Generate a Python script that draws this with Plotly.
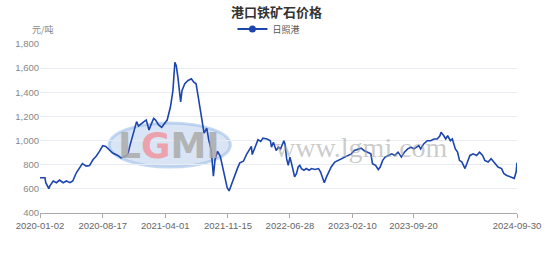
import plotly.graph_objects as go

# ---- data ----
dates = [
    "2020-01-02", "2020-01-20", "2020-01-23", "2020-02-03", "2020-02-07", "2020-02-19",
    "2020-03-02", "2020-03-13", "2020-03-26", "2020-04-07", "2020-04-20", "2020-04-30",
    "2020-05-13", "2020-05-25", "2020-06-04", "2020-06-18", "2020-06-30", "2020-07-13",
    "2020-07-24", "2020-08-05", "2020-08-17", "2020-08-28", "2020-09-10", "2020-09-22",
    "2020-10-12", "2020-10-22", "2020-11-03", "2020-11-16", "2020-11-23", "2020-12-03",
    "2020-12-09", "2020-12-18", "2020-12-25", "2021-01-04", "2021-01-14", "2021-01-22",
    "2021-02-01", "2021-02-08", "2021-02-18", "2021-02-25", "2021-03-08", "2021-03-19",
    "2021-03-26", "2021-04-08", "2021-04-20", "2021-04-29", "2021-05-06", "2021-05-11",
    "2021-05-17", "2021-05-21", "2021-05-27", "2021-06-01", "2021-06-11", "2021-06-23",
    "2021-07-05", "2021-07-13", "2021-07-22", "2021-07-29", "2021-08-06", "2021-08-12",
    "2021-08-20", "2021-08-30", "2021-09-06", "2021-09-15", "2021-09-23", "2021-09-29",
    "2021-10-08", "2021-10-18", "2021-10-26", "2021-11-04", "2021-11-12", "2021-11-19",
    "2021-11-29", "2021-12-10", "2021-12-20", "2021-12-28", "2022-01-10", "2022-01-21",
    "2022-02-08", "2022-02-11", "2022-02-21", "2022-03-04", "2022-03-14", "2022-03-22",
    "2022-04-06", "2022-04-18", "2022-04-22", "2022-04-29", "2022-05-09", "2022-05-17",
    "2022-05-25", "2022-06-06", "2022-06-10", "2022-06-16", "2022-06-22", "2022-06-28",
    "2022-07-04", "2022-07-11", "2022-07-15", "2022-07-22", "2022-07-28", "2022-08-03",
    "2022-08-09", "2022-08-18", "2022-08-26", "2022-09-06", "2022-09-14", "2022-09-27",
    "2022-10-10", "2022-10-17", "2022-10-24", "2022-10-31", "2022-11-08", "2022-11-17",
    "2022-11-25", "2022-12-08", "2022-12-20", "2023-01-03", "2023-01-13", "2023-01-30",
    "2023-02-06", "2023-02-17", "2023-03-02", "2023-03-14", "2023-03-24", "2023-04-06",
    "2023-04-18", "2023-04-24", "2023-05-05", "2023-05-15", "2023-05-22", "2023-05-31",
    "2023-06-09", "2023-06-21", "2023-07-03", "2023-07-14", "2023-07-26", "2023-08-07",
    "2023-08-18", "2023-08-30", "2023-09-11", "2023-09-22", "2023-10-09", "2023-10-16",
    "2023-10-27", "2023-11-09", "2023-11-21", "2023-12-04", "2023-12-15", "2023-12-25",
    "2023-12-29", "2024-01-08", "2024-01-15", "2024-01-22", "2024-02-01", "2024-02-08",
    "2024-02-19", "2024-02-27", "2024-03-05", "2024-03-14", "2024-03-19", "2024-03-25",
    "2024-04-03", "2024-04-12", "2024-04-24", "2024-05-06", "2024-05-17", "2024-05-28",
    "2024-06-05", "2024-06-17", "2024-06-28", "2024-07-11", "2024-07-23", "2024-08-05",
    "2024-08-13", "2024-08-22", "2024-09-03", "2024-09-12", "2024-09-20", "2024-09-27",
    "2024-09-30",
]
rizhao = [
    692, 692, 651, 602, 625, 665,
    651, 673, 651, 665, 651, 665,
    733, 774, 810, 788, 793, 843,
    870, 911, 957, 952, 925, 897,
    875, 856, 865, 884, 952, 1034,
    1088, 1157, 1121, 1143, 1157, 1170,
    1088, 1130, 1184, 1170, 1130, 1110,
    1130, 1170, 1280, 1416, 1649, 1621,
    1526, 1416, 1321, 1416, 1471, 1498,
    1512, 1485, 1471, 1375, 1252, 1170,
    1061, 1102, 1007, 925, 706, 843,
    911, 870, 788, 679, 610, 583,
    651, 706, 774, 815, 829, 884,
    952, 884, 938, 1007, 993, 1020,
    1013, 999, 945, 986, 918, 945,
    931, 999, 972, 850, 795, 863,
    809, 741, 700, 727, 781, 795,
    768, 754, 768, 754, 768, 760,
    768, 741, 700, 651, 700, 741,
    781, 822, 836, 850, 863, 877,
    890, 918, 931, 937, 918, 904,
    890, 809, 795, 760, 781, 836,
    863, 877, 890, 877, 904, 863,
    904, 931, 945, 931, 958, 931,
    972, 999, 999, 1013, 1013, 1040,
    1068, 1040, 1013, 1040, 999, 1013,
    931, 904, 836, 822, 795, 768,
    822, 877, 890, 877, 904, 877,
    836, 822, 850, 809, 781, 768,
    727, 713, 700, 692, 686, 741,
    817,
]
series_name = "日照港"
tick_dates = ["2020-01-02", "2020-08-17", "2021-04-01", "2021-11-15",
              "2022-06-28", "2023-02-10", "2023-09-20", "2024-09-30"]
y_ticks = [400, 600, 800, 1000, 1200, 1400, 1600, 1800]

LINE = "#1c46ad"
FONT = "Noto Sans CJK SC"

fig = go.Figure()
fig.add_trace(go.Scatter(
    x=dates, y=rizhao, mode="lines", name=series_name,
    line=dict(color=LINE, width=1.6), showlegend=False,
    hoverinfo="x+y",
))
# legend entry (line + circle like the reference)
fig.add_trace(go.Scatter(
    x=[None], y=[None], mode="lines+markers", name=series_name,
    line=dict(color=LINE, width=2), marker=dict(color=LINE, size=7),
))

# watermark (logo ellipse + text)
fig.add_shape(type="circle", xref="paper", yref="paper",
              x0=0.145, x1=0.399, y0=0.272, y1=0.533,
              fillcolor="rgba(185,207,236,0.55)",
              line=dict(color="rgba(150,185,230,0.55)", width=3), layer="below")
fig.add_annotation(
    xref="paper", yref="paper", x=0.2706, y=0.40, showarrow=False,
    text="<b><span style='color:rgba(170,170,170,0.85)'>L</span>"
         "<span style='color:rgba(240,150,160,0.85)'>G</span>"
         "<span style='color:rgba(170,170,170,0.85)'>MI</span></b>",
    font=dict(family="DejaVu Sans", size=36), xanchor="center", yanchor="middle",
)
fig.add_annotation(
    xref="paper", yref="paper", x=0.673, y=0.385, showarrow=False,
    text="www.lgmi.com",
    font=dict(family="Liberation Serif", size=28, color="rgba(160,160,160,0.55)"),
    xanchor="center", yanchor="middle",
)
# y-axis unit
fig.add_annotation(
    xref="paper", yref="paper", x=(43 - 40) / 485, y=(213 - 29) / 169,
    text="元/吨", showarrow=False, xanchor="center", yanchor="middle",
    font=dict(family=FONT, size=9, color="#888888"),
)

fig.update_layout(
    width=553, height=269,
    margin=dict(l=40, r=28, t=44, b=56),
    paper_bgcolor="white", plot_bgcolor="white",
    title=dict(text="<b>港口铁矿石价格</b>", x=0.5, xanchor="center",
               y=1 - 12 / 269, yanchor="middle",
               font=dict(family=FONT, size=13, color="#333333")),
    legend=dict(orientation="h", x=0.48, xanchor="center",
                y=(213 - 29) / 169, yanchor="middle",
                font=dict(family=FONT, size=9, color="#555555"),
                itemwidth=30, bgcolor="rgba(0,0,0,0)"),
    font=dict(family=FONT),
    hovermode="x",
)
fig.update_xaxes(
    type="date", range=["2020-01-02", "2024-09-30"],
    tickvals=tick_dates, ticktext=tick_dates,
    showgrid=False, showline=True, linecolor="#aaaaaa", linewidth=1,
    ticks="outside", ticklen=4, tickcolor="#aaaaaa",
    tickfont=dict(family="Liberation Sans", size=9.5, color="#666666"),
    zeroline=False,
)
fig.update_yaxes(
    range=[400, 1800], tickvals=y_ticks, tickformat=",",
    showgrid=True, gridcolor="#e8ebf2", gridwidth=1,
    showline=False, zeroline=False, ticks="",
    tickfont=dict(family="Liberation Sans", size=9.5, color="#888888"),
)

fig.write_html("out.html")
